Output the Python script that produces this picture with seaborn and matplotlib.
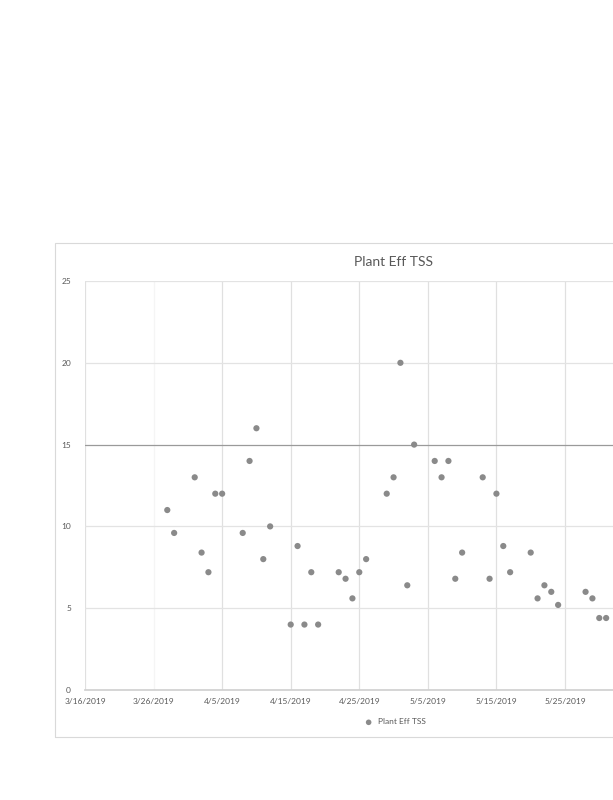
import pandas as pd
import seaborn as sns
import matplotlib.pyplot as plt
import matplotlib.dates as mdates
from matplotlib.patches import Rectangle

# sample dates and Plant Eff TSS values
dates = ["3/28/2019", "3/29/2019", "4/1/2019", "4/2/2019", "4/3/2019", "4/4/2019",
         "4/5/2019", "4/8/2019", "4/9/2019", "4/10/2019", "4/11/2019", "4/12/2019",
         "4/15/2019", "4/16/2019", "4/17/2019", "4/18/2019", "4/19/2019", "4/22/2019",
         "4/23/2019", "4/24/2019", "4/25/2019", "4/26/2019", "4/29/2019", "4/30/2019",
         "5/1/2019", "5/2/2019", "5/3/2019", "5/6/2019", "5/7/2019", "5/8/2019",
         "5/9/2019", "5/10/2019", "5/13/2019", "5/14/2019", "5/15/2019", "5/16/2019",
         "5/17/2019", "5/20/2019", "5/21/2019", "5/22/2019", "5/23/2019", "5/24/2019",
         "5/28/2019", "5/29/2019", "5/30/2019", "5/31/2019"]
tss = [11.0, 9.6, 13.0, 8.4, 7.2, 12.0,
       12.0, 9.6, 14.0, 16.0, 8.0, 10.0,
       4.0, 8.8, 4.0, 7.2, 4.0, 7.2,
       6.8, 5.6, 7.2, 8.0, 12.0, 13.0,
       20.0, 6.4, 15.0, 14.0, 13.0, 14.0,
       6.8, 8.4, 13.0, 6.8, 12.0, 8.8,
       7.2, 8.4, 5.6, 6.4, 6.0, 5.2,
       6.0, 5.6, 4.4, 4.4]
tick_dates = ["3/16/2019", "3/26/2019", "4/5/2019", "4/15/2019", "4/25/2019",
              "5/5/2019", "5/15/2019", "5/25/2019"]
x_end = "6/4/2019"
y_ticks = [0, 5, 10, 15, 20, 25]
limit = 15

df = pd.DataFrame({"Date": pd.to_datetime(dates, format="%m/%d/%Y"), "TSS": tss})
ticks = pd.to_datetime(tick_dates, format="%m/%d/%Y")

sns.set_theme(style="white")
plt.rcParams['font.family'] = ['Lato', 'DejaVu Sans']

fig = plt.figure(figsize=(6.13, 8), dpi=100)
# chart frame (runs off the right edge like the original)
fig.patches.append(Rectangle((55 / 613, 1 - 737 / 800), 0.95, (737 - 243) / 800,
                             transform=fig.transFigure, fill=False,
                             edgecolor="#d9d9d9", linewidth=0.8))

x0 = ticks[0]
x1 = pd.to_datetime(x_end, format="%m/%d/%Y")
left = 85 / 613
width = (x1 - x0).days * 6.857 / 613
ax = fig.add_axes([left, 1 - 690 / 800, width, (690 - 281) / 800])

sns.scatterplot(data=df, x="Date", y="TSS", ax=ax, color="#8a8a8a",
                s=20, edgecolor="none", label="Plant Eff TSS", legend=False)

ax.set_xlim(x0, x1)
ax.set_ylim(0, 25)
ax.set_xticks(ticks)
ax.xaxis.set_major_formatter(mdates.DateFormatter("%-m/%-d/%Y"))
ax.set_yticks(y_ticks)
for t in ticks:
    ax.axvline(t, color="#e0e0e0" if t != ticks[1] else "#f5f5f5", lw=0.9, zorder=0)
for v in y_ticks[1:]:
    ax.axhline(v, color="#9a9a9a" if v == limit else "#e3e3e3", lw=0.9, zorder=0)

for s in ["top", "right", "left"]:
    ax.spines[s].set_visible(False)
ax.spines["bottom"].set_color("#d0d0d0")
ax.tick_params(axis="both", length=0, labelsize=6, colors="#595959", pad=6)
ax.tick_params(axis="y", pad=10)
ax.set_xlabel("")
ax.set_ylabel("")

fig.text(393 / 613, 1 - 262 / 800, "Plant Eff TSS", ha="center", va="center",
         fontsize=10, color="#595959")
handles, labels = ax.get_legend_handles_labels()
fig.legend(handles, labels, loc="center", bbox_to_anchor=(393 / 613, 1 - 722 / 800),
           frameon=False, fontsize=6, labelcolor="#595959", handletextpad=0.1,
           markerscale=0.9)

fig.savefig("out.png", dpi=100)
